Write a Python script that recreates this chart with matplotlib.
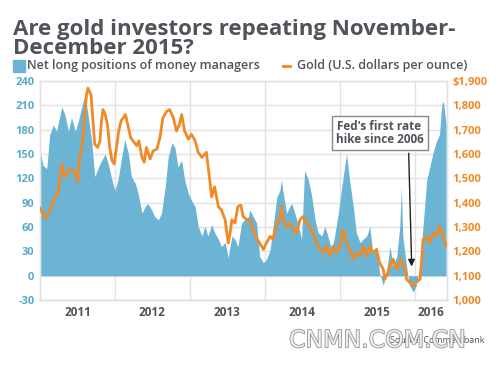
import matplotlib
matplotlib.use("Agg")
import matplotlib.pyplot as plt
import matplotlib.patheffects as pe
import numpy as np

# Net long positions of money managers (decimal year, thousand contracts)
net_t = [2011.00, 2011.04, 2011.09, 2011.13, 2011.18, 2011.22, 2011.27, 2011.29, 2011.33, 2011.38,
         2011.42, 2011.47, 2011.51, 2011.56, 2011.60, 2011.64, 2011.69, 2011.73, 2011.80, 2011.87,
         2011.91, 2011.96, 2012.00, 2012.04, 2012.09, 2012.13, 2012.18, 2012.22, 2012.27, 2012.31,
         2012.36, 2012.40, 2012.44, 2012.49, 2012.53, 2012.58, 2012.62, 2012.67, 2012.71, 2012.76,
         2012.80, 2012.84, 2012.89, 2012.93, 2012.98, 2013.02, 2013.07, 2013.11, 2013.16, 2013.20,
         2013.24, 2013.29, 2013.33, 2013.38, 2013.42, 2013.47, 2013.51, 2013.56, 2013.60, 2013.64,
         2013.69, 2013.73, 2013.78, 2013.80, 2013.89, 2013.93, 2013.98, 2014.02, 2014.07, 2014.11,
         2014.16, 2014.20, 2014.22, 2014.24, 2014.29, 2014.33, 2014.36, 2014.40, 2014.44, 2014.49,
         2014.53, 2014.58, 2014.62, 2014.67, 2014.71, 2014.76, 2014.80, 2014.84, 2014.89, 2014.93,
         2014.98, 2015.02, 2015.07, 2015.09, 2015.13, 2015.18, 2015.22, 2015.27, 2015.31, 2015.36,
         2015.40, 2015.44, 2015.49, 2015.53, 2015.58, 2015.62, 2015.67, 2015.71, 2015.76, 2015.80,
         2015.82, 2015.84, 2015.89, 2015.93, 2015.98, 2016.02, 2016.07, 2016.11, 2016.16, 2016.20,
         2016.24, 2016.29, 2016.33, 2016.36, 2016.38, 2016.42]
net_v = [154, 136, 132, 174, 186, 178, 199, 208, 199, 178,
         195, 178, 190, 209, 223, 199, 166, 122, 138, 150,
         138, 118, 105, 118, 146, 168, 150, 122, 114, 101,
         77, 85, 89, 81, 73, 69, 77, 109, 146, 164,
         158, 134, 142, 118, 101, 93, 85, 61, 49, 61,
         49, 63, 53, 45, 36, 41, 22, 49, 45, 36,
         65, 69, 73, 81, 65, 24, 16, 20, 32, 61,
         97, 105, 118, 105, 77, 85, 89, 77, 65, 45,
         130, 118, 101, 69, 53, 49, 61, 49, 32, 49,
         77, 105, 138, 150, 118, 85, 53, 41, 45, 49,
         61, 28, 36, 4, -12, 4, 36, 12, 24, 61,
         109, 49, 12, -12, -20, -12, 12, 61, 118, 134,
         150, 166, 174, 211, 215, 186]

# Gold price (U.S. dollars per ounce)
gold_t = [2011.00, 2011.07, 2011.13, 2011.20, 2011.24, 2011.29, 2011.33, 2011.38, 2011.42, 2011.47,
          2011.50, 2011.53, 2011.56, 2011.58, 2011.60, 2011.62, 2011.64, 2011.68, 2011.70, 2011.73,
          2011.77, 2011.80, 2011.82, 2011.84, 2011.87, 2011.90, 2011.93, 2011.96, 2011.99, 2012.02,
          2012.05, 2012.08, 2012.11, 2012.14, 2012.18, 2012.21, 2012.24, 2012.29, 2012.32, 2012.36,
          2012.39, 2012.42, 2012.47, 2012.51, 2012.56, 2012.60, 2012.64, 2012.69, 2012.73, 2012.78,
          2012.82, 2012.86, 2012.89, 2012.93, 2012.98, 2013.02, 2013.07, 2013.11, 2013.16, 2013.22,
          2013.26, 2013.29, 2013.33, 2013.38, 2013.42, 2013.47, 2013.51, 2013.53, 2013.56, 2013.60,
          2013.64, 2013.68, 2013.71, 2013.76, 2013.80, 2013.87, 2013.93, 2013.98, 2014.02, 2014.07,
          2014.11, 2014.16, 2014.20, 2014.22, 2014.24, 2014.29, 2014.33, 2014.38, 2014.42, 2014.47,
          2014.51, 2014.56, 2014.60, 2014.64, 2014.69, 2014.73, 2014.78, 2014.82, 2014.87, 2014.91,
          2014.96, 2015.00, 2015.04, 2015.09, 2015.13, 2015.18, 2015.22, 2015.27, 2015.31, 2015.36,
          2015.40, 2015.44, 2015.49, 2015.53, 2015.58, 2015.60, 2015.64, 2015.67, 2015.71, 2015.76,
          2015.80, 2015.82, 2015.87, 2015.89, 2015.93, 2015.98, 2016.02, 2016.07, 2016.09, 2016.11,
          2016.16, 2016.20, 2016.24, 2016.29, 2016.33, 2016.38, 2016.42]
gold_v = [1377, 1336, 1363, 1424, 1438, 1559, 1505, 1532, 1539, 1519,
          1485, 1586, 1627, 1694, 1762, 1843, 1870, 1843, 1762, 1640,
          1627, 1654, 1735, 1782, 1762, 1721, 1627, 1573, 1559, 1627,
          1694, 1735, 1748, 1762, 1708, 1667, 1654, 1634, 1654, 1586,
          1566, 1627, 1580, 1613, 1620, 1667, 1748, 1775, 1782, 1748,
          1694, 1721, 1762, 1694, 1661, 1681, 1654, 1607, 1586, 1607,
          1505, 1424, 1465, 1384, 1370, 1330, 1235, 1262, 1330, 1316,
          1384, 1390, 1343, 1330, 1330, 1262, 1235, 1208, 1235, 1262,
          1249, 1316, 1330, 1384, 1330, 1303, 1316, 1289, 1276, 1330,
          1343, 1316, 1303, 1276, 1235, 1208, 1195, 1222, 1181, 1222,
          1195, 1222, 1289, 1235, 1208, 1168, 1195, 1181, 1222, 1181,
          1222, 1195, 1208, 1154, 1127, 1086, 1114, 1141, 1168, 1127,
          1154, 1168, 1127, 1086, 1073, 1059, 1073, 1086, 1154, 1249,
          1262, 1235, 1276, 1262, 1303, 1262, 1222]

year_labels = ["2011", "2012", "2013", "2014", "2015", "2016"]
year_starts = [2011, 2012, 2013, 2014, 2015, 2016]
net_ticks = [-30, 0, 30, 60, 90, 120, 150, 180, 210, 240]
gold_ticks = [1000, 1100, 1200, 1300, 1400, 1500, 1600, 1700, 1800, 1900]

BLUE = "#6cb4d4"
BLUE_TXT = "#5aaad0"
ORANGE = "#f08a26"
DARK = "#4f545a"
GRID = "#e2e2e2"
FONT = "Open Sans"

fig = plt.figure(figsize=(5, 3.78), dpi=100)
ax = fig.add_axes([0.08, 0.206, 0.814, 0.580])
ax2 = ax.twinx()

x_end = 2016.43
ax.fill_between(net_t, net_v, 0, color=BLUE, lw=0, zorder=2)
ax2.plot(gold_t, gold_v, color=ORANGE, lw=2.0, zorder=3)

ax.set_xlim(2011.0, x_end)
ax.set_ylim(-30, 240)
ax2.set_ylim(1000, 1900)

ax.set_yticks(net_ticks)
ax.set_yticklabels([str(v) for v in net_ticks], color=BLUE_TXT, fontweight="bold",
                   fontsize=8, family=FONT)
ax2.set_yticks(gold_ticks)
ax2.set_yticklabels([("$" if v == 1900 else "") + f"{v:,}" for v in gold_ticks],
                    color=ORANGE, fontweight="bold", fontsize=8, family=FONT)

mids = [(s + min(s + 1, x_end)) / 2 for s in year_starts]
ax.set_xticks(mids)
ax.set_xticklabels(year_labels, color=DARK, fontweight="bold", fontsize=8.5, family=FONT)
ax.set_xticks(year_starts[1:], minor=True)

ax.grid(True, axis="y", which="major", color=GRID, lw=1.0, zorder=0)
ax.grid(True, axis="x", which="minor", color=GRID, lw=1.0, zorder=0)
ax.set_axisbelow(True)
ax.tick_params(which="both", length=0, pad=4)
ax2.tick_params(length=0, pad=4)
for a in (ax, ax2):
    for s in a.spines.values():
        s.set_color(GRID)
        s.set_linewidth(1.0)

# annotation for Fed hike
ax.annotate("Fed's first rate\nhike since 2006", xy=(2015.96, 8), xytext=(2015.53, 176),
            ha="center", va="center", fontsize=8.5, fontweight="bold", color=DARK, family=FONT,
            linespacing=1.0,
            bbox=dict(boxstyle="square,pad=0.35", fc="white", ec="#888888", lw=1.0),
            arrowprops=dict(arrowstyle="-|>", color="#222222", lw=1.0,
                            relpos=(0.83, 0.0), mutation_scale=10),
            zorder=5)

fig.text(0.026, 0.95, "Are gold investors repeating November-\nDecember 2015?",
         ha="left", va="top", fontsize=16, fontweight="bold", color=DARK, family=FONT,
         linespacing=0.85)

# legend row
fig.patches.append(plt.Rectangle((0.026, 0.81), 0.024, 0.032, transform=fig.transFigure,
                                 color=BLUE, figure=fig))
fig.text(0.054, 0.826, "Net long positions of money managers", ha="left", va="center",
         fontsize=9, fontweight="semibold", color=DARK, family=FONT)
fig.lines.append(plt.Line2D([0.566, 0.58], [0.826, 0.826], transform=fig.transFigure,
                            color=ORANGE, lw=2, figure=fig))
fig.text(0.594, 0.826, "Gold (U.S. dollars per ounce)", ha="left", va="center",
         fontsize=9, fontweight="semibold", color=DARK, family=FONT)

fig.text(0.97, 0.1, "Source: Commerzbank", ha="right", va="center", fontsize=6.5,
         color="#555555", family=FONT)
fig.text(0.755, 0.1, "CNMN.COM.CN", ha="center", va="center", fontsize=17,
         color="#f4f4f4", family="DejaVu Sans", alpha=0.9,
         path_effects=[pe.withStroke(linewidth=1.2, foreground="#8a8a8a")])

fig.savefig("out.png", dpi=100, facecolor="white")
